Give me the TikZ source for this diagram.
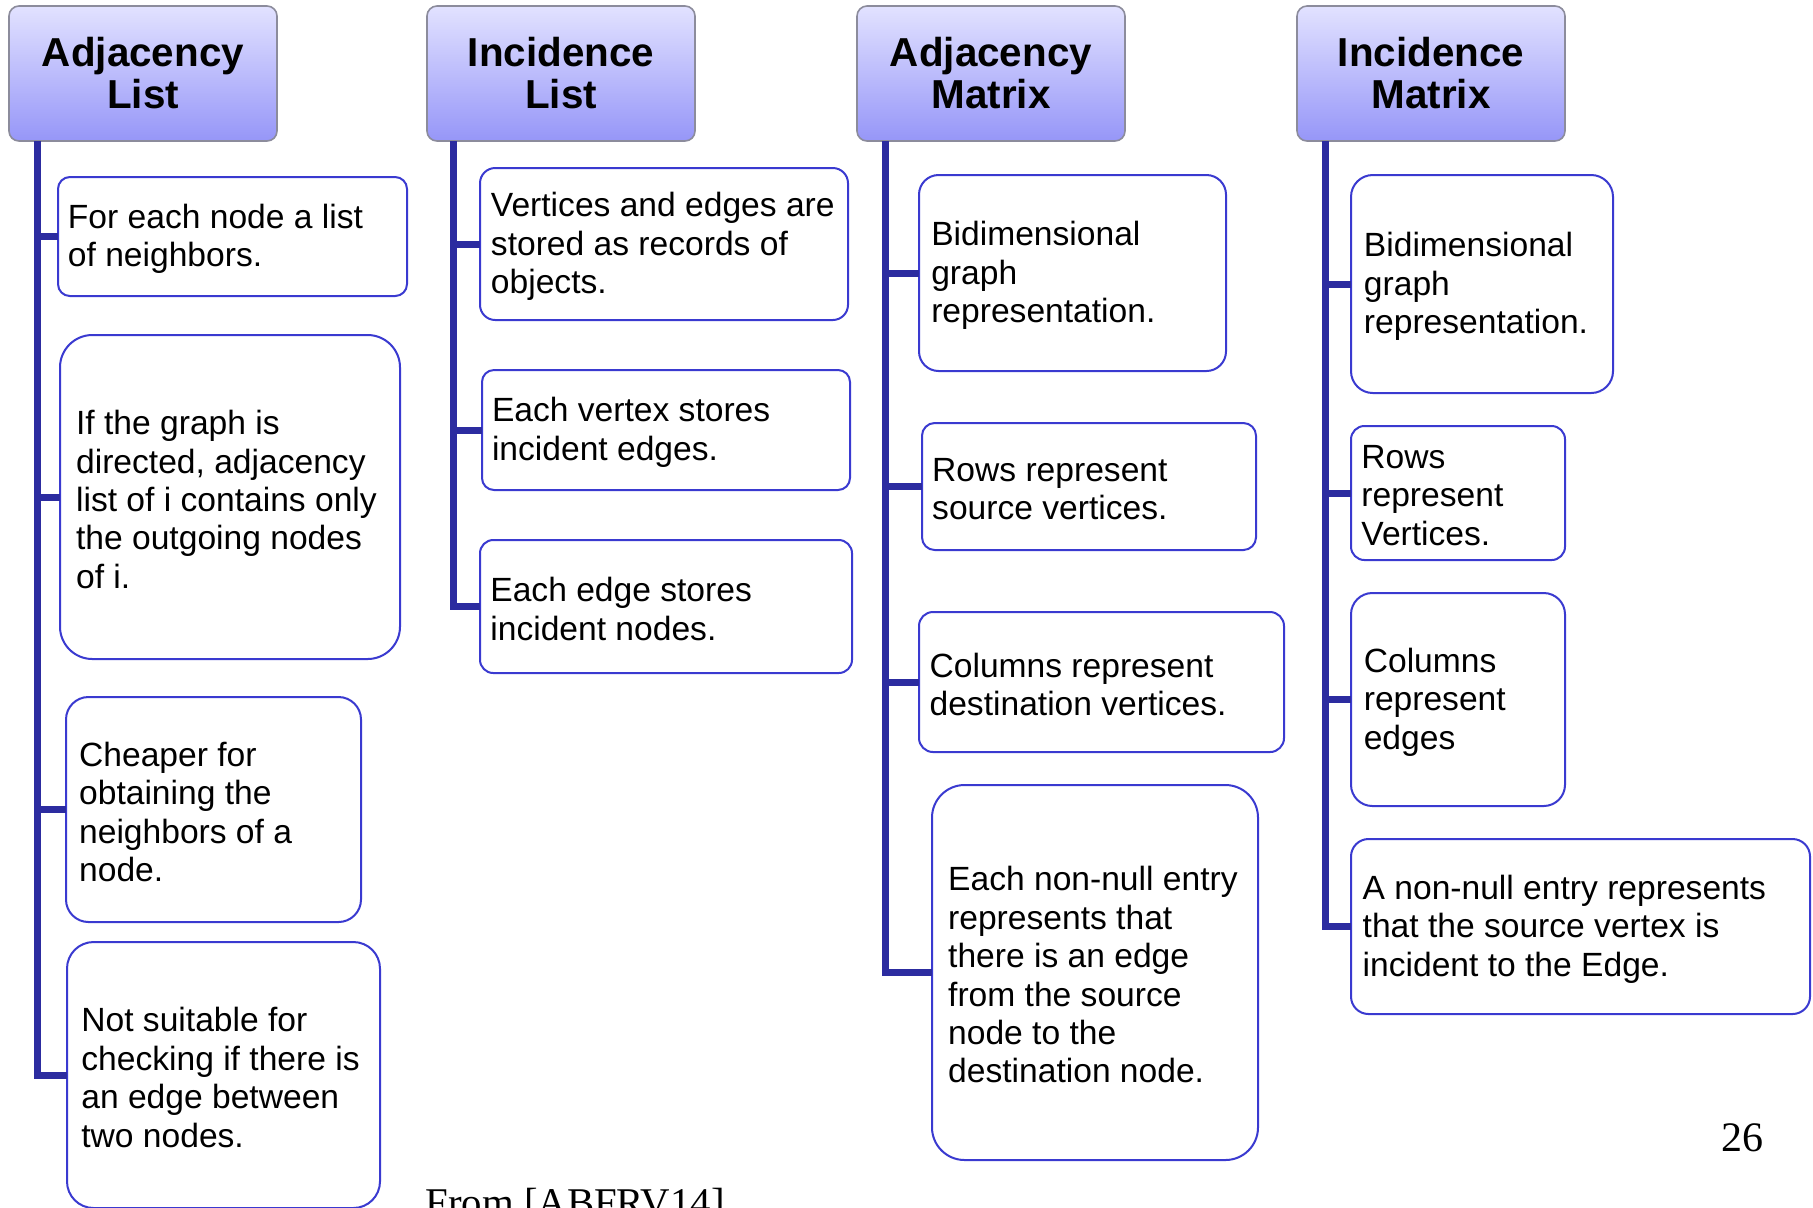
\documentclass[tikz,border=0pt]{standalone}
\usepackage{fontspec}
\setmainfont{Liberation Sans}
\newfontfamily\pagefont{Liberation Serif}
\definecolor{hdrtop}{HTML}{E2E2FF}
\definecolor{hdrbot}{HTML}{9696F8}
\definecolor{hdrline}{HTML}{8C8C9C}
\definecolor{leafline}{HTML}{3A3AD0}
\definecolor{trunkcol}{HTML}{2C2CA0}

% one leaf: name, left, top, right, bottom (pixel units), text
\newcommand\leaf[6]{%
  \pgfmathsetmacro\lfW{(#4-#2)/2}%
  \pgfmathsetmacro\lfH{(#5-#3)/2}%
  \pgfmathsetmacro\lfR{0.1*min(\lfW,\lfH)}%
  \pgfmathsetmacro\lfI{(6+0.03*min(#4-#2,#5-#3))/2}%
  \node[leafbox, minimum width=\lfW pt, minimum height=\lfH pt,
        rounded corners=\lfR pt] (#1) at (#2,#3) {};
  \node[leaftext] (#1t) at ([xshift=\lfI pt, yshift=-1.2pt]#1.west) {#6};%
}

\begin{document}
\begin{tikzpicture}[x=0.5pt,y=-0.5pt,
  hdr/.style={draw=hdrline, line width=0.8pt, rounded corners=5pt,
    top color=hdrtop, bottom color=hdrbot,
    minimum width=134pt, minimum height=67.5pt, anchor=north west,
    align=center, inner sep=0pt, outer sep=0pt,
    font=\bfseries\fontsize{20.2}{21}\selectfont},
  leafbox/.style={draw=leafline, line width=1pt, fill=white,
    anchor=north west, inner sep=0pt, outer sep=0pt},
  leaftext/.style={anchor=west, align=left, inner sep=0pt,
    font=\fontsize{16.8}{19.2}\selectfont},
  trunk/.style={draw=trunkcol, line width=3.5pt, line join=miter},
]
\fill[white] (0,0) rectangle (1813,1207);
\useasboundingbox (0,0) rectangle (1813,1207);

% column headers
\node[hdr] (h1) at (9,6)    {Adjacency\\List};
\node[hdr] (h2) at (427,6)  {Incidence\\List};
\node[hdr] (h3) at (857,6)  {Adjacency\\Matrix};
\node[hdr] (h4) at (1297,6) {Incidence\\Matrix};

% trunk roots
\coordinate (r1) at ([xshift=14pt]h1.south west);
\coordinate (r2) at ([xshift=13pt]h2.south west);
\coordinate (r3) at ([xshift=14pt]h3.south west);
\coordinate (r4) at ([xshift=14pt]h4.south west);

% leaves
\leaf{b11}{58}{177}{407}{296}{For each node a list\\of neighbors.}
\leaf{b12}{60}{335}{400}{659}{If the graph is\\directed, adjacency\\list of i contains only\\the outgoing nodes\\of i.}
\leaf{b13}{66}{697}{361}{922}{Cheaper for\\obtaining the\\neighbors of a\\node.}
\leaf{b14}{67}{942}{380}{1208}{Not suitable for\\checking if there is\\an edge between\\two nodes.}

\leaf{b21}{480}{168}{848}{320}{Vertices and edges are\\stored as records of\\objects.}
\leaf{b22}{482}{370}{850}{490}{Each vertex stores\\incident edges.}
\leaf{b23}{480}{540}{852}{673}{Each edge stores\\incident nodes.}

\leaf{b31}{919}{175}{1226}{371}{Bidimensional\\graph\\representation.}
\leaf{b32}{922}{423}{1256}{550}{Rows represent\\source vertices.}
\leaf{b33}{919}{612}{1284}{752}{Columns represent\\destination vertices.}
\leaf{b34}{932}{785}{1258}{1160}{Each non-null entry\\represents that\\there is an edge\\from the source\\node to the\\destination node.}

\leaf{b41}{1351}{175}{1613}{393}{Bidimensional\\graph\\representation.}
\leaf{b42}{1351}{426}{1565}{560}{Rows\\represent\\Vertices.}
\leaf{b43}{1351}{593}{1565}{806}{Columns\\represent\\edges}
\leaf{b44}{1351}{839}{1810}{1014}{A non-null entry represents\\that the source vertex is\\incident to the Edge.}

% trunks and branches
\draw[trunk] (r1) |- (b14.west);
\foreach \b in {b11,b12,b13} \draw[trunk] (r1 |- \b.west) -- (\b.west);
\draw[trunk] (r2) |- (b23.west);
\foreach \b in {b21,b22} \draw[trunk] (r2 |- \b.west) -- (\b.west);
\draw[trunk] (r3) |- (b34.west);
\foreach \b in {b31,b32,b33} \draw[trunk] (r3 |- \b.west) -- (\b.west);
\draw[trunk] (r4) |- (b44.west);
\foreach \b in {b41,b42,b43} \draw[trunk] (r4 |- \b.west) -- (\b.west);

% slide footer
\node[anchor=base west, inner sep=0pt, font=\pagefont\fontsize{21}{24}\selectfont] (pg) at (1721,1151) {26};
\node[anchor=base west, inner sep=0pt, font=\pagefont\fontsize{20.4}{24}\selectfont] (src) at (425,1216) {From [ABFRV14]};
\end{tikzpicture}
\end{document}
